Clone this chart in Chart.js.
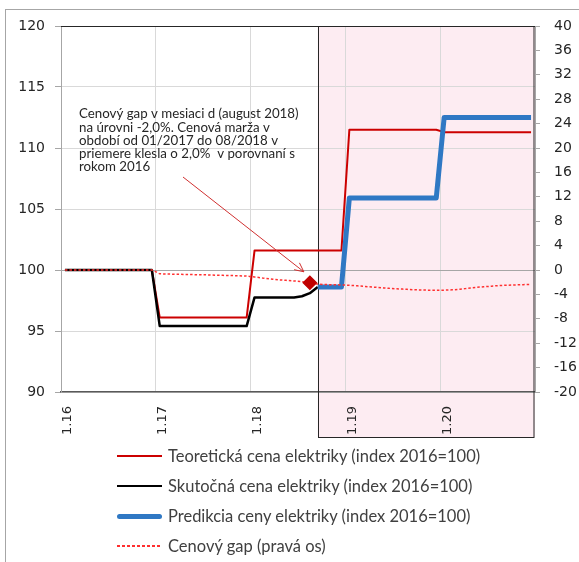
<!DOCTYPE html>
<html>
<head>
<meta charset="utf-8">
<script src="https://cdn.jsdelivr.net/npm/chart.js@4.4.1/dist/chart.umd.min.js"></script>
<style>
    html, body { margin: 0; padding: 0; background: #fff; }
    #wrap { position: relative; width: 579px; height: 562px; overflow: hidden; }
    #frame { position: absolute; left: 5px; top: 9px; width: 700px; height: 700px;
             border-left: 1.5px solid #a6a6a6; border-top: 1.5px solid #a6a6a6; }
    #chart { position: absolute; left: 0; top: 0; }
    #legend { position: absolute; left: 117px; top: 441px; font: 16.5px Lato, sans-serif; color: #404040; }
    .item { display: flex; align-items: center; height: 30px; }
    .swatch { width: 45px; margin-right: 6px; }
</style>
</head>
<body>
<div id="wrap">
    <div id="frame"></div>
    <canvas id="chart" width="579" height="562"></canvas>
    <div id="legend"></div>
</div>
<script>
// years shown on the x axis (month.year, January of each year)
var yearLabels = ['1.16', '1.17', '1.18', '1.19', '1.20'];

// index 2016=100, left axis
var teoreticka = [
    100, 100, 100, 100, 100, 100, 100, 100, 100, 100, 100, 100,
    96.1, 96.1, 96.1, 96.1, 96.1, 96.1, 96.1, 96.1, 96.1, 96.1, 96.1, 96.1,
    101.6, 101.6, 101.6, 101.6, 101.6, 101.6, 101.6, 101.6, 101.6, 101.6, 101.6, 101.6,
    111.5, 111.5, 111.5, 111.5, 111.5, 111.5, 111.5, 111.5, 111.5, 111.5, 111.5, 111.5,
    111.3, 111.3, 111.3, 111.3, 111.3, 111.3, 111.3, 111.3, 111.3, 111.3, 111.3, 111.3
];
var skutocna = [
    100, 100, 100, 100, 100, 100, 100, 100, 100, 100, 100, 100,
    95.4, 95.4, 95.4, 95.4, 95.4, 95.4, 95.4, 95.4, 95.4, 95.4, 95.4, 95.4,
    97.75, 97.75, 97.75, 97.75, 97.75, 97.75, 97.85, 98.1, 98.6, null, null, null,
    null, null, null, null, null, null, null, null, null, null, null, null,
    null, null, null, null, null, null, null, null, null, null, null, null
];
var predikcia = [
    null, null, null, null, null, null, null, null, null, null, null, null,
    null, null, null, null, null, null, null, null, null, null, null, null,
    null, null, null, null, null, null, null, null, 98.6, 98.6, 98.6, 98.6,
    105.9, 105.9, 105.9, 105.9, 105.9, 105.9, 105.9, 105.9, 105.9, 105.9, 105.9, 105.9,
    112.5, 112.5, 112.5, 112.5, 112.5, 112.5, 112.5, 112.5, 112.5, 112.5, 112.5, 112.5
];
// price gap in %, right axis
var gap = [
    0, 0, 0, 0, 0, 0, 0, 0, 0, 0, 0, 0,
    -0.6, -0.65, -0.7, -0.72, -0.75, -0.78, -0.8, -0.85, -0.88, -0.9, -0.95, -1.0,
    -1.15, -1.3, -1.45, -1.6, -1.7, -1.8, -1.9, -2.1, -2.3, -2.38, -2.42, -2.45,
    -2.5, -2.6, -2.7, -2.8, -2.9, -3.0, -3.08, -3.15, -3.22, -3.27, -3.3, -3.3,
    -3.3, -3.25, -3.15, -3.0, -2.85, -2.75, -2.65, -2.55, -2.5, -2.45, -2.4, -2.38
];
var gapMarkIndex = 31;   // august 2018
var predStartIndex = 32; // shaded prediction area starts here

var noteLines = [
    'Cenový gap v mesiaci d (august 2018)',
    'na úrovni -2,0%. Cenová marža v',
    'období od 01/2017 do 08/2018 v',
    'priemere klesla o 2,0%  v porovnaní s',
    'rokom 2016'
];

var categories = [];
for (var y = 16; y <= 20; y++) {
    for (var m = 1; m <= 12; m++) {
        categories.push(m + '.' + y);
    }
}

var tickFont = { family: 'DejaVu Sans', size: 14 };

var boxPlugin = {
    id: 'predictionBox',
    beforeDraw: function (chart) {
        var ctx = chart.ctx, area = chart.chartArea;
        var left = chart.scales.x.getPixelForValue(predStartIndex);
        ctx.save();
        ctx.fillStyle = '#fdecf2';
        ctx.fillRect(left, area.top, area.right - left, area.bottom + 45 - area.top);
        ctx.restore();
    },
    beforeDatasetsDraw: function (chart) {
        var ctx = chart.ctx, area = chart.chartArea;
        var left = Math.round(chart.scales.x.getPixelForValue(predStartIndex)) + 0.5;
        ctx.save();
        ctx.strokeStyle = '#262626';
        ctx.lineWidth = 1;
        ctx.beginPath();
        ctx.moveTo(area.left, area.top + 0.5);
        ctx.lineTo(area.right, area.top + 0.5);
        ctx.strokeRect(left, area.top + 0.5, area.right - 1 - left, area.bottom + 45 - area.top);
        ctx.stroke();
        ctx.restore();
    },
    afterDraw: function (chart) {
        var ctx = chart.ctx, area = chart.chartArea;
        ctx.save();
        ctx.font = '13.3px Lato, sans-serif';
        ctx.fillStyle = '#262626';
        ctx.textBaseline = 'middle';
        noteLines.forEach(function (line, i) {
            ctx.fillText(line, area.left + 18, area.top + 88 + i * 13.3);
        });
        // arrow to the gap marker
        var px = chart.scales.x.getPixelForValue(gapMarkIndex);
        var py = chart.scales.y2.getPixelForValue(gap[gapMarkIndex]);
        var sx = area.left + 122, sy = area.top + 151;
        var tx = px - 6, ty = py - 11;
        var ang = Math.atan2(ty - sy, tx - sx);
        ctx.strokeStyle = '#d03030';
        ctx.lineWidth = 1;
        ctx.beginPath();
        ctx.moveTo(sx, sy);
        ctx.lineTo(tx, ty);
        ctx.moveTo(tx - 10 * Math.cos(ang - 0.45), ty - 10 * Math.sin(ang - 0.45));
        ctx.lineTo(tx, ty);
        ctx.lineTo(tx - 10 * Math.cos(ang + 0.45), ty - 10 * Math.sin(ang + 0.45));
        ctx.stroke();
        ctx.restore();
    }
};

var chart = new Chart(document.getElementById('chart'), {
    type: 'line',
    data: {
        labels: categories,
        datasets: [
            {
                label: 'Teoretická cena elektriky (index 2016=100)',
                data: teoreticka,
                borderColor: '#cc0000',
                borderWidth: 2,
                yAxisID: 'y',
                order: 3
            },
            {
                label: 'Skutočná cena elektriky (index 2016=100)',
                data: skutocna,
                borderColor: '#000000',
                borderWidth: 2.5,
                yAxisID: 'y',
                order: 2
            },
            {
                label: 'Predikcia ceny elektriky (index 2016=100)',
                data: predikcia,
                borderColor: '#2f78c4',
                borderWidth: 5,
                yAxisID: 'y',
                order: 1
            },
            {
                label: 'Cenový gap (pravá os)',
                data: gap,
                borderColor: '#ff3030',
                borderWidth: 1.5,
                borderDash: [2.5, 2],
                yAxisID: 'y2',
                cubicInterpolationMode: 'monotone',
                pointStyle: 'rectRot',
                pointRadius: function (c) { return c.dataIndex === gapMarkIndex ? 6.5 : 0; },
                pointBackgroundColor: '#c00000',
                pointBorderColor: '#c00000',
                order: 0
            }
        ]
    },
    options: {
        responsive: false,
        animation: false,
        events: [],
        layout: { padding: { top: 26, bottom: 125, left: 0, right: 0 } },
        elements: {
            line: { tension: 0, borderJoinStyle: 'round', borderCapStyle: 'butt', fill: false },
            point: { radius: 0, hoverRadius: 0 }
        },
        plugins: {
            legend: { display: false },
            tooltip: { enabled: false }
        },
        scales: {
            x: {
                type: 'category',
                offset: true,
                grid: {
                    offset: true,
                    drawTicks: false,
                    color: function (c) { return (c.index % 12 === 0 && c.index > 0) ? '#d9d9d9' : 'rgba(0,0,0,0)'; }
                },
                border: { color: '#595959', width: 1.5 },
                ticks: {
                    autoSkip: false,
                    maxRotation: 90,
                    minRotation: 90,
                    padding: 14,
                    labelOffset: 3,
                    color: '#262626',
                    font: { family: 'DejaVu Sans', size: 13 },
                    callback: function (value) {
                        var l = this.getLabelForValue(value);
                        return yearLabels.indexOf(l) >= 0 ? l : '';
                    }
                },
                afterFit: function (s) { s.height = 45; }
            },
            y: {
                position: 'left',
                min: 90,
                max: 120,
                ticks: { stepSize: 5, padding: 10, color: '#262626', font: tickFont },
                grid: {
                    tickLength: 6,
                    tickColor: '#a6a6a6',
                    color: function (c) {
                        if (c.tick.value === 100) return '#a6a6a6';
                        if (c.tick.value === 120) return 'rgba(0,0,0,0)';
                        return '#d9d9d9';
                    }
                },
                border: { color: '#a6a6a6' },
                afterFit: function (s) { s.width = 61; }
            },
            y2: {
                position: 'right',
                min: -20,
                max: 40,
                ticks: { stepSize: 4, padding: 14, color: '#262626', font: tickFont },
                grid: { drawOnChartArea: false, tickLength: 5, tickColor: '#a6a6a6' },
                border: { color: '#a6a6a6' },
                afterFit: function (s) { s.width = 44; }
            }
        }
    },
    plugins: [boxPlugin]
});

// legend below the chart, one item per row
var legendEl = document.getElementById('legend');
chart.data.datasets.forEach(function (ds) {
    var item = document.createElement('div');
    item.className = 'item';
    var sw = document.createElement('div');
    sw.className = 'swatch';
    sw.style.height = ds.borderWidth + 'px';
    if (ds.borderDash) {
        sw.style.background = 'repeating-linear-gradient(90deg, ' + ds.borderColor + ' 0 3px, transparent 3px 5px)';
        sw.style.height = '1.5px';
    } else {
        sw.style.background = ds.borderColor;
        if (ds.borderWidth >= 4) sw.style.borderRadius = '3px';
    }
    var txt = document.createElement('span');
    txt.textContent = ds.label;
    item.appendChild(sw);
    item.appendChild(txt);
    legendEl.appendChild(item);
});
</script>
</body>
</html>
